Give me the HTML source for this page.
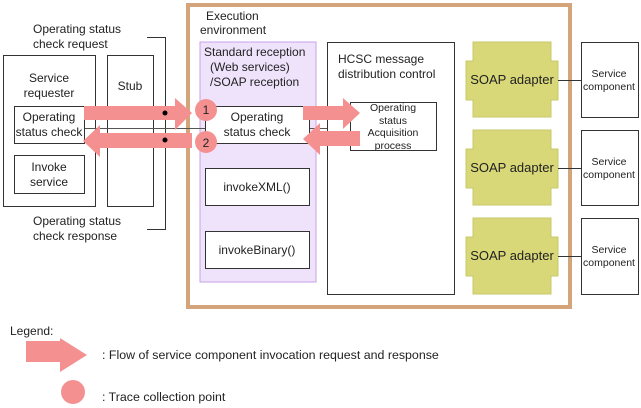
<!DOCTYPE html>
<html><head><style>body{margin:0;background:#fff}svg{display:block}</style></head><body>
<svg width="641" height="408" xmlns="http://www.w3.org/2000/svg" font-family="Liberation Sans, sans-serif" font-size="12" fill="#222">
<rect x="188" y="5" width="382" height="302" fill="#fff" stroke="#d4a57a" stroke-width="4"/>
<text x="206" y="20">Execution</text><text x="200" y="34">environment</text>
<rect x="200" y="42" width="116" height="240" fill="#efe3fc" stroke="#c8a2ea"/>
<text x="204" y="56">Standard reception</text><text x="210" y="71">(Web services)</text><text x="210" y="86">/SOAP reception</text>
<rect x="3.5" y="55.5" width="92" height="151" fill="#fff" stroke="#333"/>
<text x="49" y="82" text-anchor="middle">Service</text><text x="49" y="97" text-anchor="middle">requester</text>
<rect x="107.5" y="55.5" width="46" height="151" fill="#fff" stroke="#333"/>
<text x="130" y="90" text-anchor="middle">Stub</text>
<path d="M147 37.5H165.5V229.5H147" fill="none" stroke="#333"/>
<text x="33" y="33">Operating status</text><text x="33" y="48">check request</text>
<text x="33" y="225">Operating status</text><text x="33" y="240">check response</text>
<line x1="84" y1="128.5" x2="205" y2="128.5" stroke="#555"/>
<rect x="14.5" y="106.5" width="70" height="37" fill="#fff" stroke="#333"/>
<text x="49" y="121" text-anchor="middle">Operating</text><text x="49" y="136" text-anchor="middle">status check</text>
<rect x="14.5" y="155.5" width="70" height="38" fill="#fff" stroke="#333"/>
<text x="49" y="171" text-anchor="middle">Invoke</text><text x="49" y="186" text-anchor="middle">service</text>
<rect x="205.5" y="106.5" width="104" height="37" fill="#fff" stroke="#333"/>
<text x="257" y="121" text-anchor="middle">Operating</text><text x="257" y="136" text-anchor="middle">status check</text>
<rect x="205.5" y="168.5" width="104" height="37" fill="#fff" stroke="#333"/>
<text x="257" y="191" text-anchor="middle">invokeXML()</text>
<rect x="205.5" y="231.5" width="104" height="37" fill="#fff" stroke="#333"/>
<text x="257" y="254" text-anchor="middle">invokeBinary()</text>
<rect x="327.5" y="42.5" width="127" height="252" fill="#fff" stroke="#333"/>
<text x="338" y="63">HCSC message</text><text x="338" y="78">distribution control</text>
<line x1="310" y1="128.5" x2="327" y2="128.5" stroke="#555"/>
<rect x="350.5" y="102.5" width="86" height="48" fill="#fff" stroke="#333"/>
<g font-size="10.5" text-anchor="middle"><text x="393" y="111">Operating</text><text x="393" y="124">status</text><text x="393" y="136">Acquisition</text><text x="393" y="149">process</text></g>
<g fill="#f59090">
<polygon points="84,106 175,106 175,98 192,113 175,130 175,120 84,120"/>
<polygon points="192,133 100,133 100,125 83,141 100,157 100,148 192,148"/>
<polygon points="303,106 343,106 343,98 360,113 343,129 343,120 303,120"/>
<polygon points="360,131 320,131 320,123 303,139 320,155 320,146 360,146"/>
<circle cx="206" cy="110" r="11"/><circle cx="206" cy="142" r="11"/>
<polygon points="26,341 60,341 60,338 87,355 60,372 60,362 26,362"/>
<circle cx="73" cy="392" r="12"/>
</g>
<text x="206" y="114" text-anchor="middle">1</text><text x="206" y="147" text-anchor="middle">2</text>
<circle cx="165" cy="113" r="2.5" fill="#000"/><circle cx="165" cy="140" r="2.5" fill="#000"/>
<g fill="#d8d878" stroke="#c8c868">
<path d="M473 42H551V61H558V100H551V117H473V100H466V61H473Z"/>
<path d="M473 130H551V149H558V188H551V205H473V188H466V149H473Z"/>
<path d="M473 218H551V237H558V276H551V294H473V276H466V237H473Z"/>
</g>
<g text-anchor="middle" font-size="13"><text x="512" y="84">SOAP adapter</text><text x="512" y="172">SOAP adapter</text><text x="512" y="260">SOAP adapter</text></g>
<g stroke="#333"><line x1="558" y1="80.5" x2="581" y2="80.5"/><line x1="558" y1="168.5" x2="581" y2="168.5"/><line x1="558" y1="256.5" x2="581" y2="256.5"/></g>
<g fill="#fff" stroke="#333"><rect x="581.5" y="42.5" width="57" height="75"/><rect x="581.5" y="130.5" width="57" height="75"/><rect x="581.5" y="218.5" width="57" height="76"/></g>
<g text-anchor="middle" font-size="10.5"><text x="609" y="77">Service</text><text x="609" y="90">component</text><text x="609" y="165">Service</text><text x="609" y="178">component</text><text x="609" y="253">Service</text><text x="609" y="266">component</text></g>
<text x="10" y="335">Legend:</text>
<text x="102" y="359" font-size="12.4">: Flow of service component invocation request and response</text>
<text x="102" y="401" font-size="12.4">: Trace collection point</text>
</svg>
</body></html>
